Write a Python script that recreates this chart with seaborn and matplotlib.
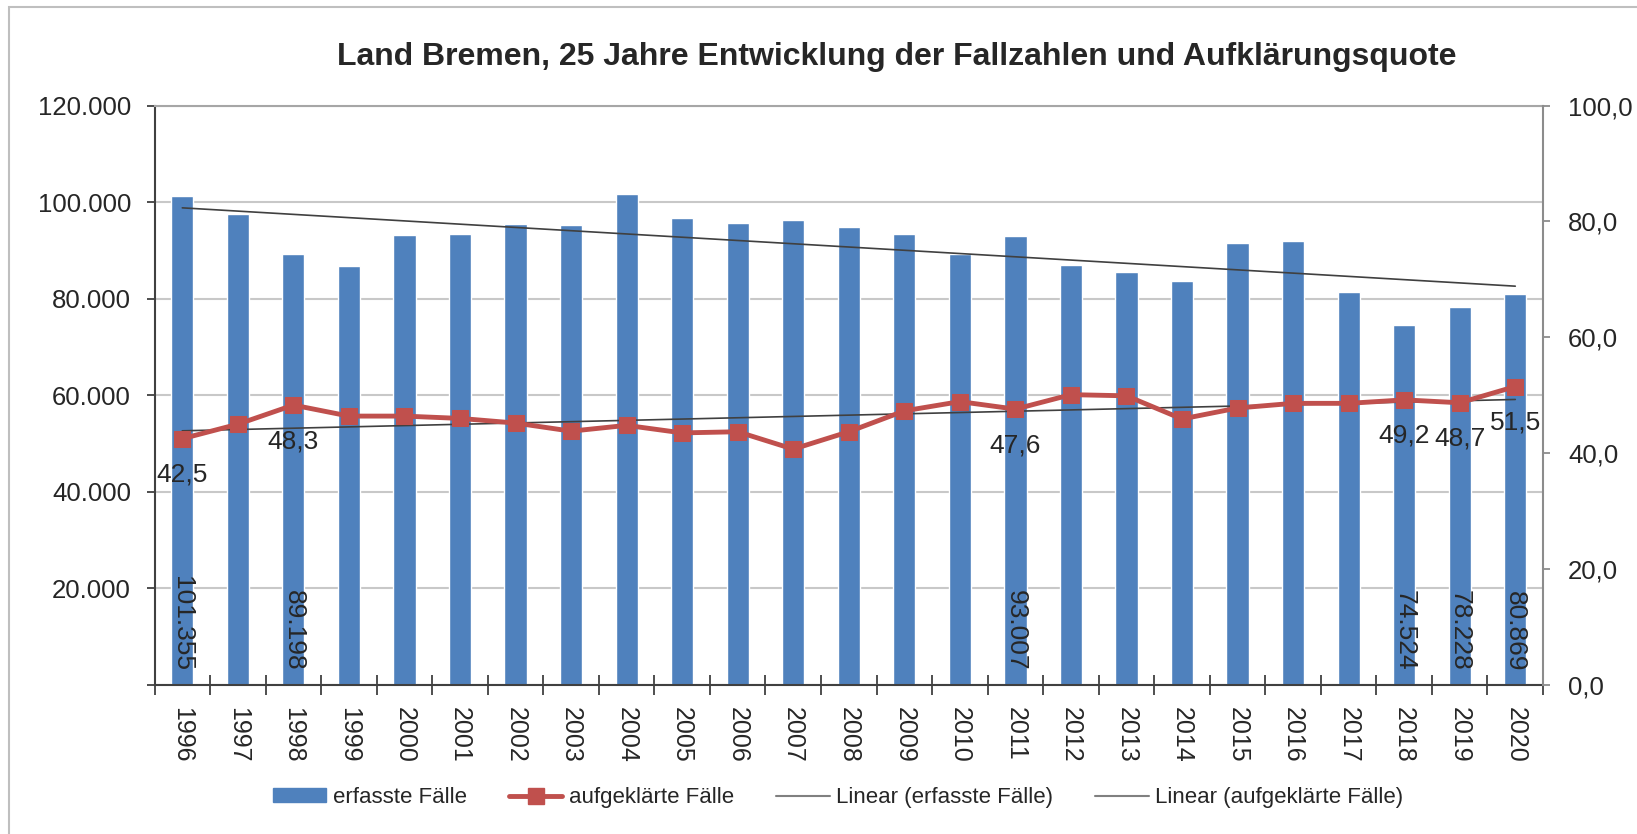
import numpy as np
import pandas as pd
import seaborn as sns
import matplotlib.pyplot as plt
from matplotlib.patches import Patch, Rectangle
from matplotlib.lines import Line2D
from matplotlib.ticker import FuncFormatter

# --- DATEN ---
jahre = [str(j) for j in range(1996, 2021)]
erfasste = [101355, 97500, 89198, 86700, 93100, 93300, 95500, 95200, 101600,
            96800, 95700, 96300, 94900, 93300, 89200, 93007, 86900, 85600,
            83700, 91500, 92000, 81400, 74524, 78228, 80869]
quote = [42.5, 45.0, 48.3, 46.4, 46.4, 46.0, 45.2, 43.8, 44.8, 43.5, 43.7, 40.7,
         43.7, 47.3, 48.9, 47.6, 50.1, 49.9, 45.9, 47.8, 48.6, 48.6, 49.2, 48.7, 51.5]
label_jahre = ["1996", "1998", "2011", "2018", "2019", "2020"]

titel = "Land Bremen, 25 Jahre Entwicklung der Fallzahlen und Aufklärungsquote"
blau = "#4F81BD"
rot = "#C0504D"

sns.set_style("white")
plt.rcParams["font.family"] = ["Liberation Sans", "DejaVu Sans"]

df = pd.DataFrame({"Jahr": jahre, "erfasst": erfasste, "quote": quote})
x = np.arange(len(jahre))

fig = plt.figure(figsize=(16.37, 8.34), dpi=100)
ax = fig.add_axes([0.0944, 0.1787, 0.8482, 0.6948])

# Balken
sns.barplot(data=df, x="Jahr", y="erfasst", color=blau, saturation=1,
            width=0.4, ax=ax, zorder=2)

# Trendlinie erfasste Fälle
trend1 = np.polyval(np.polyfit(x, erfasste, 1), x)
ax.plot(x, trend1, color="#404040", lw=1.2, zorder=3)

ax.set_xlim(-0.5, len(jahre) - 0.5)
ax.set_ylim(0, 120000)
ax.set_yticks(range(0, 120001, 20000))
ax.yaxis.set_major_formatter(
    FuncFormatter(lambda v, p: "" if v == 0 else f"{int(v):,}".replace(",", ".")))
ax.set_xlabel("")
ax.set_ylabel("")
ax.yaxis.grid(True, color="#C8C8C8", lw=1.5)
ax.xaxis.grid(False)
ax.set_axisbelow(True)

for s in ["left", "bottom"]:
    ax.spines[s].set_color("#404040")
    ax.spines[s].set_linewidth(1.5)
ax.spines["top"].set_color("#A6A6A6")
ax.spines["top"].set_linewidth(1.5)
ax.spines["right"].set_visible(False)

ax.tick_params(axis="y", which="major", length=6, width=1.3, color="#404040",
               labelsize=18.5, pad=11, left=True)
ax.tick_params(axis="x", which="major", length=0, labelsize=18, pad=16,
               labelrotation=270, bottom=True)
ax.set_xticks(np.arange(-0.5, len(jahre), 1), minor=True)
ax.tick_params(axis="x", which="minor", direction="inout", length=15,
               width=1.3, color="#404040", bottom=True)

# Beschriftung Balken
for j in label_jahre:
    i = jahre.index(j)
    ax.annotate(f"{erfasste[i]:,}".replace(",", "."), xy=(i, 0), xytext=(0, 10),
                textcoords="offset points", rotation=270, ha="center",
                va="bottom", fontsize=19, zorder=5)

# Zweite Achse: Aufklärungsquote
ax2 = ax.twinx()
sns.lineplot(x=x, y=quote, ax=ax2, color=rot, lw=3.5, marker="s",
             markersize=12, markeredgecolor=rot, legend=False, zorder=4)
trend2 = np.polyval(np.polyfit(x, quote, 1), x)
ax2.plot(x, trend2, color="#404040", lw=1.2, zorder=3)

ax2.set_ylim(0, 100)
ax2.set_yticks(range(0, 101, 20))
ax2.yaxis.set_major_formatter(FuncFormatter(lambda v, p: f"{v:.1f}".replace(".", ",")))
ax2.set_ylabel("")
ax2.grid(False)
for s in ["left", "top", "bottom"]:
    ax2.spines[s].set_visible(False)
ax2.spines["right"].set_color("#8C8C8C")
ax2.spines["right"].set_linewidth(1.5)
ax2.tick_params(axis="y", length=5, width=1.3, color="#8C8C8C",
                labelsize=18.5, pad=13, right=True)

for j in label_jahre:
    i = jahre.index(j)
    ax2.annotate(f"{quote[i]:.1f}".replace(".", ","), xy=(i, quote[i]),
                 xytext=(0, -26), textcoords="offset points", ha="center",
                 va="center", fontsize=19, zorder=6)

# Titel
fig.text(0.548, 0.932, titel, ha="center", va="center", fontsize=23,
         fontweight="bold")

# Legende
handles = [
    Patch(facecolor=blau, edgecolor=blau),
    Line2D([], [], color=rot, lw=3.5, marker="s", markersize=12),
    Line2D([], [], color="#808080", lw=1.5),
    Line2D([], [], color="#808080", lw=1.5),
]
labels = ["erfasste Fälle", "aufgeklärte Fälle", "Linear (erfasste Fälle)",
          "Linear (aufgeklärte Fälle)"]
fig.legend(handles, labels, loc="center", bbox_to_anchor=(0.512, 0.044),
           ncol=4, frameon=False, fontsize=16, handlelength=2.4,
           handleheight=0.55, handletextpad=0.3, columnspacing=1.9)

# Rahmen um das Diagramm
fig.add_artist(Rectangle((0.0058, -0.1), 1.1, 1.0916, transform=fig.transFigure,
                         fill=False, edgecolor="#BFBFBF", lw=1.5))

fig.savefig("out.png", dpi=100)
